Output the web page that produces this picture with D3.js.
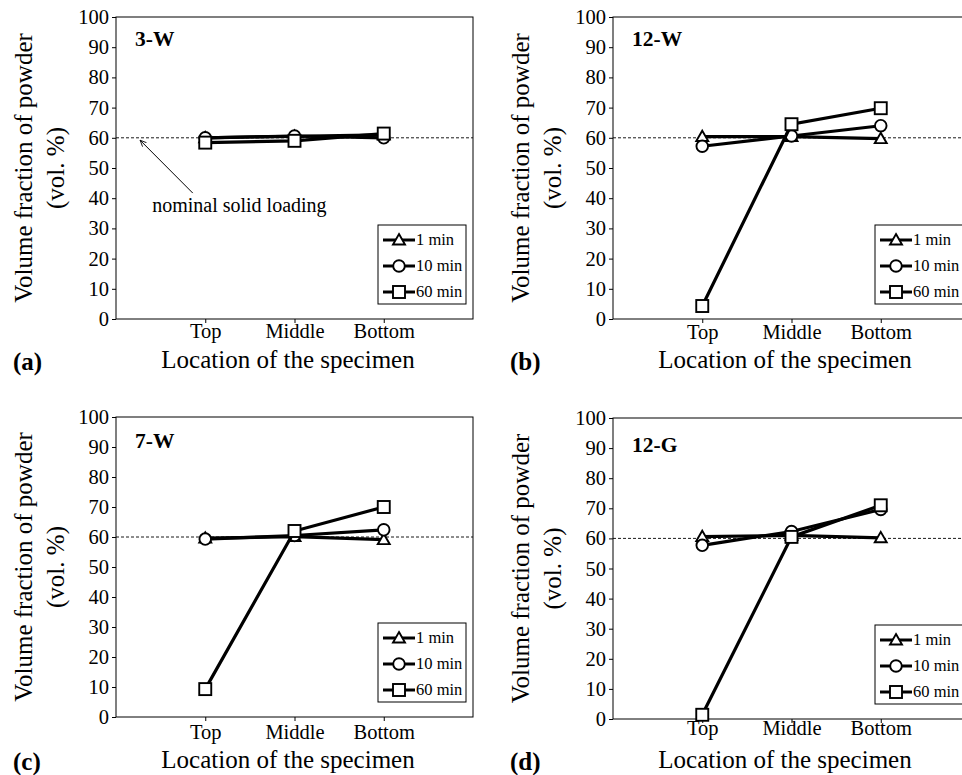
<!DOCTYPE html>
<html>
<head>
<meta charset="utf-8">
<script src="https://cdn.jsdelivr.net/npm/d3@7"></script>
<style>
  body { margin: 0; background: #fff; }
  svg { display: block; font-family: "Liberation Serif", "Times New Roman", serif; }
</style>
</head>
<body>
<svg id="fig" width="962" height="775"></svg>
<script>

// categories on the x axis, series names
var locations = ['Top', 'Middle', 'Bottom'];
var times = ['1 min', '10 min', '60 min'];
var markerTypes = ['triangle', 'circle', 'square'];

var panelNames = ['3-W', '12-W', '7-W', '12-G'];
var panelTags = ['(a)', '(b)', '(c)', '(d)'];

// volume fraction (vol. %) per series: [Top, Middle, Bottom]
var w3_1min  = [60.0, 60.5, 61.0];
var w3_10min = [60.0, 60.6, 60.0];
var w3_60min = [58.4, 59.0, 61.4];

var w12_1min  = [60.4, 60.4, 59.7];
var w12_10min = [57.2, 60.6, 64.0];
var w12_60min = [4.3, 64.5, 69.8];

var w7_1min  = [59.6, 60.1, 59.1];
var w7_10min = [59.3, 60.5, 62.4];
var w7_60min = [9.3, 62.0, 70.0];

var g12_1min  = [60.6, 61.0, 60.2];
var g12_10min = [57.7, 62.3, 69.6];
var g12_60min = [1.4, 60.5, 71.0];

var panelSeries = [
    [w3_1min, w3_10min, w3_60min],
    [w12_1min, w12_10min, w12_60min],
    [w7_1min, w7_10min, w7_60min],
    [g12_1min, g12_10min, g12_60min]
];

var yTicks = [0, 10, 20, 30, 40, 50, 60, 70, 80, 90, 100];
var nominalLoading = 60;

// layout of the four panels
var panelLeft = [116, 613, 116, 613];
var panelTop = [17, 17, 417, 418];
var panelH = [302, 302, 300, 301];
var panelW = 357;
var xLabelGap = [19, 20, 22, 16];
var titleBase = [368, 368, 768, 768];
var nameGap = [29, 29, 31, 34];

var svg = d3.select('#fig');

function draw_marker(g, type, cx, cy){
    if( type == 'circle' ){
        g.append('circle').attr('cx', cx).attr('cy', cy).attr('r', 5.8)
            .attr('fill', 'white').attr('stroke', 'black').attr('stroke-width', 1.9);
    } else if( type == 'square' ){
        g.append('rect').attr('x', cx - 6).attr('y', cy - 6).attr('width', 12).attr('height', 12)
            .attr('fill', 'white').attr('stroke', 'black').attr('stroke-width', 1.9);
    } else {
        g.append('path').attr('d', d3.symbol().type(d3.symbolTriangle).size(62)())
            .attr('transform', 'translate(' + cx + ',' + (cy + 1) + ')')
            .attr('fill', 'white').attr('stroke', 'black').attr('stroke-width', 1.9);
    }
}

function draw_panel(p){
    var left = panelLeft[p], top = panelTop[p], h = panelH[p];
    var x = d3.scaleLinear().domain([0, 4]).range([left, left + panelW]);
    var y = d3.scaleLinear().domain([0, 100]).range([top + h, top]);
    var g = svg.append('g');

    // frame
    g.append('rect').attr('x', left).attr('y', top).attr('width', panelW).attr('height', h)
        .attr('fill', 'none').attr('stroke', 'black').attr('stroke-width', 1);

    // y axis
    var yAxis = g.append('g').attr('transform', 'translate(' + left + ',0)')
        .call(d3.axisLeft(y).tickValues(yTicks).tickSize(4).tickPadding(3).tickFormat(d3.format('d')));
    yAxis.attr('font-family', null).attr('font-size', null);
    yAxis.select('.domain').remove();
    yAxis.selectAll('text').style('font-size', '20.5px').attr('fill', 'black');

    // x axis
    var xAxis = g.append('g').attr('transform', 'translate(0,' + (top + h) + ')')
        .call(d3.axisBottom(x).tickValues([1, 2, 3]).tickSize(4)
            .tickFormat(function(d){ return locations[d - 1]; }));
    xAxis.attr('font-family', null).attr('font-size', null);
    xAxis.select('.domain').remove();
    xAxis.selectAll('text').style('font-size', '20.5px')
        .attr('fill', 'black').attr('y', xLabelGap[p]).attr('dy', null);

    // nominal loading
    g.append('line').attr('x1', x(0)).attr('x2', x(4)).attr('y1', y(nominalLoading)).attr('y2', y(nominalLoading))
        .attr('stroke', 'black').attr('stroke-width', 0.9).attr('stroke-dasharray', '3,2');

    // series
    var line = d3.line().x(function(d, i){ return x(i + 1); }).y(function(d){ return y(d); });
    panelSeries[p].forEach(function(vals, s){
        g.append('path').datum(vals).attr('d', line).attr('fill', 'none')
            .attr('stroke', 'black').attr('stroke-width', 3.2);
        vals.forEach(function(v, i){ draw_marker(g, markerTypes[s], x(i + 1), y(v)); });
    });

    // panel name
    g.append('text').attr('x', left + 19).attr('y', top + nameGap[p])
        .style('font-size', '21.5px').style('font-weight', 'bold').text(panelNames[p]);

    // legend
    var lx = left + 262, ly = top + h - 94;
    g.append('rect').attr('x', lx).attr('y', ly).attr('width', 88).attr('height', 79)
        .attr('fill', 'white').attr('stroke', 'black').attr('stroke-width', 1);
    times.forEach(function(t, s){
        var ey = ly + 15 + s * 26;
        g.append('line').attr('x1', lx + 5).attr('x2', lx + 37).attr('y1', ey).attr('y2', ey)
            .attr('stroke', 'black').attr('stroke-width', 3);
        draw_marker(g, markerTypes[s], lx + 21, ey);
        g.append('text').attr('x', lx + 38).attr('y', ey).attr('dy', '0.33em')
            .style('font-size', '16.5px').text(t);
    });

    // axis titles
    g.append('text').attr('x', left + 172).attr('y', titleBase[p]).attr('text-anchor', 'middle')
        .style('font-size', '25px').text('Location of the specimen');
    var cy = top + h / 2;
    g.append('text').attr('transform', 'translate(' + (left - 93) + ',' + cy + ') rotate(-90)')
        .attr('text-anchor', 'middle').attr('dy', '0.35em').style('font-size', '25px')
        .text('Volume fraction of powder');
    g.append('text').attr('transform', 'translate(' + (left - 61) + ',' + cy + ') rotate(-90)')
        .attr('text-anchor', 'middle').attr('dy', '0.35em').style('font-size', '25px')
        .text('(vol. %)');

    // panel tag
    g.append('text').attr('x', left - 103).attr('y', titleBase[p] + 2)
        .style('font-size', '25px').style('font-weight', 'bold').text(panelTags[p]);

    if( p == 0 ){
        // arrow to the nominal loading line
        svg.append('defs').append('marker').attr('id', 'arrow').attr('viewBox', '0 0 10 10')
            .attr('refX', 9).attr('refY', 5).attr('markerWidth', 7).attr('markerHeight', 7)
            .attr('orient', 'auto').append('path').attr('d', 'M0,1 L9,5 L0,9')
            .attr('fill', 'none').attr('stroke', 'black').attr('stroke-width', 1.2);
        g.append('line').attr('x1', x(0.86)).attr('y1', y(41.7)).attr('x2', x(0.27)).attr('y2', y(59.2))
            .attr('stroke', 'black').attr('stroke-width', 1).attr('marker-end', 'url(#arrow)');
        g.append('text').attr('x', x(0.405)).attr('y', y(35.3))
            .style('font-size', '20px').text('nominal solid loading');
    }
}

for( var p = 0; p < 4; p++ ){
    draw_panel(p);
}

</script>
</body>
</html>
